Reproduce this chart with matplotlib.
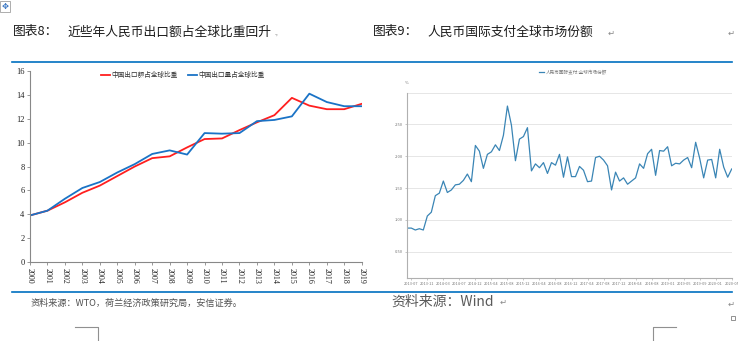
import matplotlib
matplotlib.use("Agg")
import matplotlib.pyplot as plt
from matplotlib.lines import Line2D
from matplotlib.patches import Rectangle

plt.rcParams['font.family'] = ['Noto Sans CJK SC', 'DejaVu Sans']

# ---------------- data ----------------
years = [str(y) for y in range(2000, 2020)]
export_value_share = [3.9, 4.3, 5.0, 5.8, 6.4, 7.2, 8.0, 8.7, 8.85, 9.6,
                      10.3, 10.35, 11.05, 11.7, 12.3, 13.75, 13.1, 12.8, 12.8, 13.25]
export_volume_share = [3.9, 4.3, 5.3, 6.2, 6.7, 7.5, 8.2, 9.05, 9.35, 9.0,
                       10.8, 10.75, 10.8, 11.8, 11.9, 12.2, 14.1, 13.4, 13.05, 13.05]
left_series_names = ['中国出口额占全球比重', '中国出口量占全球比重']

rmb_share = [0.87, 0.87, 0.84, 0.86, 0.84, 1.06, 1.12, 1.38, 1.42, 1.61,
             1.43, 1.47, 1.55, 1.56, 1.62, 1.72, 1.60, 2.17, 2.08, 1.81,
             2.03, 2.07, 2.18, 2.09, 2.33, 2.79, 2.49, 1.93, 2.27, 2.31,
             2.45, 1.77, 1.88, 1.82, 1.90, 1.73, 1.90, 1.86, 2.03, 1.67,
             1.99, 1.68, 1.68, 1.84, 1.78, 1.60, 1.61, 1.98, 2.00, 1.94,
             1.85, 1.47, 1.75, 1.61, 1.66, 1.56, 1.61, 1.66, 1.88, 1.81,
             2.04, 2.11, 1.70, 2.09, 2.08, 2.15, 1.85, 1.89, 1.88, 1.94,
             1.98, 1.82, 2.22, 1.97, 1.66, 1.94, 1.95, 1.66, 2.11, 1.83,
             1.67, 1.80]
rmb_tick_labels = ['2013-07', '2013-11', '2014-03', '2014-07', '2014-12', '2015-04',
                   '2015-08', '2015-12', '2016-04', '2016-08', '2016-12', '2017-04',
                   '2017-08', '2017-12', '2018-04', '2018-08', '2019-01', '2019-05',
                   '2019-09', '2020-01', '2020-05']
rmb_series_name = '人民币国际支付:全球市场份额'
rmb_yticks = [0.50, 1.00, 1.50, 2.00, 2.50]

W, H = 738, 341
fig = plt.figure(figsize=(W / 100, H / 100), dpi=100)


def fx(x):
    return x / W


def fy(y):
    return 1 - y / H


def axes_px(l, t, r, b):
    return fig.add_axes([fx(l), fy(b), fx(r) - fx(l), fy(t) - fy(b)])


RULE = '#0070C0'

# ---------------- page decorations ----------------
fig.add_artist(Rectangle((fx(0), fy(12)), fx(10), fy(1) - fy(12), transform=fig.transFigure,
                         fill=False, edgecolor='#a0a0a0', linewidth=0.6))
fig.text(fx(5), fy(6.5), '✥', fontsize=6, color='#2f6fc0', ha='center', va='center',
         family=['DejaVu Sans'])

fig.text(fx(13), fy(32), '图表8：', fontsize=9.2, ha='left', va='center', color='#1a1a1a')
fig.text(fx(67), fy(32), '近些年人民币出口额占全球比重回升', fontsize=9.2, ha='left',
         va='center', color='#1a1a1a')
fig.text(fx(274), fy(33), '.,', fontsize=5, ha='left', va='center', color='#888888')

fig.text(fx(373), fy(32), '图表9：', fontsize=9.2, ha='left', va='center', color='#1a1a1a')
fig.text(fx(427), fy(32), '人民币国际支付全球市场份额', fontsize=9.2, ha='left',
         va='center', color='#1a1a1a')
fig.text(fx(608), fy(33), '↵', fontsize=6, ha='left', va='center', color='#888888',
         family=['DejaVu Sans'])
fig.text(fx(728), fy(33), '↵', fontsize=6, ha='left', va='center', color='#888888',
         family=['DejaVu Sans'])

fig.add_artist(Line2D([fx(12), fx(732)], [fy(62), fy(62)], transform=fig.transFigure,
                      color=RULE, linewidth=1.2))
fig.add_artist(Line2D([fx(12), fx(732)], [fy(292), fy(292)], transform=fig.transFigure,
                      color=RULE, linewidth=1.2))

fig.text(fx(31), fy(303.5), '资料来源：WTO，荷兰经济政策研究局，安信证券。', fontsize=6.6,
         ha='left', va='center', color='#505050')
fig.text(fx(391), fy(302), '资料来源：Wind', fontsize=10, ha='left', va='center',
         color='#5a5a5a')
fig.text(fx(500), fy(302), '↵', fontsize=6, ha='left', va='center', color='#888888',
         family=['DejaVu Sans'])
fig.text(fx(728), fy(304), '↵', fontsize=6, ha='left', va='center', color='#888888',
         family=['DejaVu Sans'])
fig.add_artist(Rectangle((fx(731), fy(320)), fx(4), fy(316) - fy(320), transform=fig.transFigure,
                         fill=False, edgecolor='#808080', linewidth=0.6))

# corner crop marks
for xs, ys in [([75, 98, 98], [327, 327, 341]), ([676, 653, 653], [327, 327, 341])]:
    fig.add_artist(Line2D([fx(v) for v in xs], [fy(v) for v in ys], transform=fig.transFigure,
                          color='#909090', linewidth=0.8))

# ---------------- left chart ----------------
ax1 = axes_px(30, 71, 361.7, 262)
xi = list(range(len(years)))
ax1.plot(xi, export_value_share, color='#ff1f1f', linewidth=1.3, label=left_series_names[0])
ax1.plot(xi, export_volume_share, color='#1a73c6', linewidth=1.3, label=left_series_names[1])
ax1.set_xlim(0, len(years) - 1)
ax1.set_ylim(0, 16)
ax1.set_yticks(range(0, 17, 2))
ax1.set_xticks(xi)
ax1.set_xticklabels(years, rotation=-90, family=['Liberation Serif'], fontsize=5.8)
for lab in ax1.get_yticklabels():
    lab.set_family(['Liberation Serif'])
    lab.set_fontsize(6)
for s in ['top', 'right']:
    ax1.spines[s].set_visible(False)
for s in ['left', 'bottom']:
    ax1.spines[s].set_color('#888888')
    ax1.spines[s].set_linewidth(0.8)
ax1.tick_params(axis='both', length=2, width=0.6, color='#888888', pad=2, labelcolor='#222222')
leg = ax1.legend(loc='upper center', bbox_to_anchor=(0.46, 1.03), ncol=2, frameon=False,
                 fontsize=4.8, handlelength=1.3, handletextpad=0.2, columnspacing=1.6)
for t in leg.get_texts():
    t.set_color('#333333')

# ---------------- right chart ----------------
ax2 = axes_px(407.3, 92.7, 731.7, 278.3)
ri = list(range(len(rmb_share)))
ax2.plot(ri, rmb_share, color='#3a85b5', linewidth=0.9, label=rmb_series_name)
ax2.set_xlim(0, len(rmb_share) - 1)
ax2.set_ylim(0.08, 3.0)
ax2.set_yticks(rmb_yticks)
ax2.set_yticklabels([f'{v:.2f}' for v in rmb_yticks], fontsize=3, color='#777777')
ax2.set_xticks(ri[1::4])
ax2.set_xticklabels(rmb_tick_labels, fontsize=2.8, color='#777777')
for y in rmb_yticks + [3.0]:
    ax2.axhline(y, color='#e6e6e6', linewidth=0.7, zorder=0)
for s in ['top', 'right']:
    ax2.spines[s].set_visible(False)
for s in ['left', 'bottom']:
    ax2.spines[s].set_color('#b0b0b0')
    ax2.spines[s].set_linewidth(0.8)
ax2.tick_params(axis='both', length=1.5, width=0.5, color='#b0b0b0', pad=1.5)
fig.text(fx(407), fy(83), '%', fontsize=3, ha='center', va='center', color='#777777')
leg2 = ax2.legend(loc='center', bbox_to_anchor=(fx(573), fy(72)),
                  bbox_transform=fig.transFigure, frameon=False, fontsize=3.3,
                  handlelength=1.2, handletextpad=0.3)
for t in leg2.get_texts():
    t.set_color('#777777')

fig.savefig('out.png', dpi=100)
